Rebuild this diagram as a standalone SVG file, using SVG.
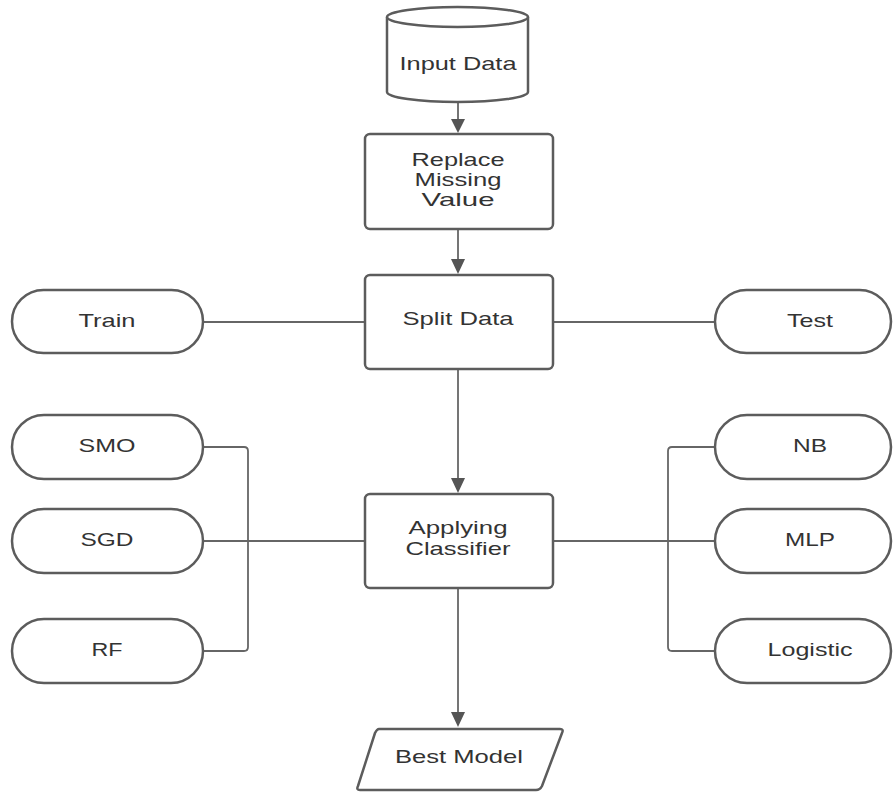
<svg xmlns="http://www.w3.org/2000/svg" width="893" height="792" viewBox="0 0 893 792">
<style>
.shape{fill:#ffffff;stroke:#5c5c5c;stroke-width:2.5}
.conn{fill:none;stroke:#666666;stroke-width:1.8}
.head{fill:#555555}
.t{font-family:"Liberation Sans",Arial,sans-serif;font-size:18.5px;fill:#333333;text-anchor:middle}
</style>
<rect width="893" height="792" fill="#ffffff"/>
<g id="connectors">
<line class="conn" x1="458" y1="103" x2="458" y2="119"/>
<path class="head" d="M451,119 L465,119 L458,133 Z"/>
<line class="conn" x1="458" y1="229" x2="458" y2="260"/>
<path class="head" d="M451,259 L465,259 L458,274 Z"/>
<line class="conn" x1="458" y1="369" x2="458" y2="479"/>
<path class="head" d="M451,478 L465,478 L458,493 Z"/>
<line class="conn" x1="458" y1="588" x2="458" y2="713"/>
<path class="head" d="M451,712 L465,712 L458,727 Z"/>
<line class="conn" x1="203" y1="322" x2="364" y2="322"/>
<line class="conn" x1="553" y1="322" x2="715" y2="322"/>
<path class="conn" d="M203,447 L244,447 Q248,447 248,451 L248,647 Q248,651 244,651 L203,651"/>
<line class="conn" x1="203" y1="541" x2="364" y2="541"/>
<path class="conn" d="M715,447 L672,447 Q668,447 668,451 L668,647 Q668,651 672,651 L715,651"/>
<line class="conn" x1="553" y1="541" x2="715" y2="541"/>
</g>
<g id="input-data">
<path class="shape" d="M387,17 L387,92 A70.5,10 0 0 0 528,92 L528,17 A70.5,10 0 0 0 387,17 Z"/>
<path class="shape" d="M387,17 A70.5,10 0 0 0 528,17" fill="none"/>
<text class="t" x="458" y="70" textLength="117" lengthAdjust="spacingAndGlyphs">Input Data</text>
</g>
<g id="replace-missing">
<rect class="shape" x="365" y="134" width="188" height="95" rx="5"/>
<text class="t" x="458" y="166" textLength="93" lengthAdjust="spacingAndGlyphs">Replace</text>
<text class="t" x="458" y="186" textLength="87" lengthAdjust="spacingAndGlyphs">Missing</text>
<text class="t" x="458" y="206" textLength="73" lengthAdjust="spacingAndGlyphs">Value</text>
</g>
<g id="split-data">
<rect class="shape" x="365" y="275" width="188" height="94" rx="5"/>
<text class="t" x="458" y="325" textLength="111" lengthAdjust="spacingAndGlyphs">Split Data</text>
</g>
<g id="train">
<rect class="shape" x="12" y="290" width="191" height="63" rx="31.5"/>
<text class="t" x="107" y="327" textLength="57" lengthAdjust="spacingAndGlyphs">Train</text>
</g>
<g id="test">
<rect class="shape" x="715" y="290" width="176" height="63" rx="31.5"/>
<text class="t" x="810" y="327" textLength="46" lengthAdjust="spacingAndGlyphs">Test</text>
</g>
<g id="smo">
<rect class="shape" x="12" y="415" width="191" height="64" rx="32"/>
<text class="t" x="107" y="452" textLength="57" lengthAdjust="spacingAndGlyphs">SMO</text>
</g>
<g id="sgd">
<rect class="shape" x="12" y="509" width="191" height="64" rx="32"/>
<text class="t" x="107" y="546" textLength="53" lengthAdjust="spacingAndGlyphs">SGD</text>
</g>
<g id="rf">
<rect class="shape" x="12" y="619" width="191" height="64" rx="32"/>
<text class="t" x="107" y="656" textLength="31" lengthAdjust="spacingAndGlyphs">RF</text>
</g>
<g id="nb">
<rect class="shape" x="715" y="415" width="176" height="64" rx="32"/>
<text class="t" x="810" y="452" textLength="34" lengthAdjust="spacingAndGlyphs">NB</text>
</g>
<g id="mlp">
<rect class="shape" x="715" y="509" width="176" height="64" rx="32"/>
<text class="t" x="810" y="546" textLength="50" lengthAdjust="spacingAndGlyphs">MLP</text>
</g>
<g id="logistic">
<rect class="shape" x="715" y="619" width="176" height="64" rx="32"/>
<text class="t" x="810" y="656" textLength="85" lengthAdjust="spacingAndGlyphs">Logistic</text>
</g>
<g id="applying-classifier">
<rect class="shape" x="365" y="494" width="188" height="94" rx="5"/>
<text class="t" x="458" y="534" textLength="99" lengthAdjust="spacingAndGlyphs">Applying</text>
<text class="t" x="458" y="555" textLength="105" lengthAdjust="spacingAndGlyphs">Classifier</text>
</g>
<g id="best-model">
<path class="shape" stroke-linejoin="round" d="M379,729 L560,729 Q564,729 562,733 L542,786 Q540,790 536,790 L360,790 Q356,790 358,786 L375,733 Q377,729 379,729 Z"/>
<text class="t" x="459" y="763" textLength="128" lengthAdjust="spacingAndGlyphs">Best Model</text>
</g>
</svg>
